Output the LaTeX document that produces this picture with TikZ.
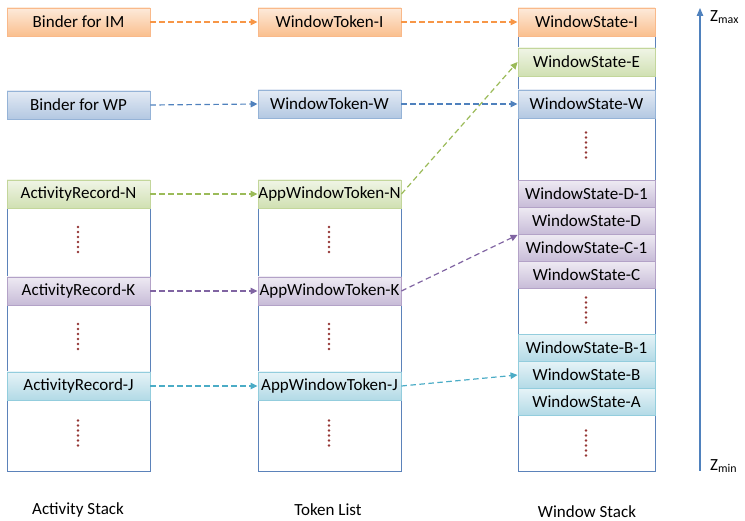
\documentclass[tikz,border=0pt]{standalone}
\usepackage{fontspec}
\setmainfont{Carlito}
\usetikzlibrary{arrows.meta}
\definecolor{orBd}{HTML}{F9B98A}
\definecolor{orT}{HTML}{FDEADA}
\definecolor{orB}{HTML}{FABF8E}
\definecolor{orA}{HTML}{F79646}
\definecolor{blBd}{HTML}{95B3D7}
\definecolor{blT}{HTML}{E3EAF4}
\definecolor{blB}{HTML}{B3C8E2}
\definecolor{blA}{HTML}{4F81BD}
\definecolor{grBd}{HTML}{C3D69B}
\definecolor{grT}{HTML}{F0F5E6}
\definecolor{grB}{HTML}{D0E0B2}
\definecolor{grA}{HTML}{9BBB59}
\definecolor{puBd}{HTML}{B3A2C7}
\definecolor{puT}{HTML}{EEEAF3}
\definecolor{puB}{HTML}{C7BBD7}
\definecolor{puA}{HTML}{8064A2}
\definecolor{teBd}{HTML}{93CDDD}
\definecolor{teT}{HTML}{E6F3F7}
\definecolor{teB}{HTML}{B2DAE6}
\definecolor{teA}{HTML}{4BACC6}
\definecolor{stackBd}{HTML}{5B82BA}
\definecolor{dotC}{HTML}{953735}
\newcommand\mydots[2]{\foreach \k in {0,...,5}{\fill[dotC] (#1,#2-12.5+5*\k) circle (1.4);}}
\begin{document}
\begin{tikzpicture}[x=1pt,y=-1pt,
  font=\fontsize{17}{19}\selectfont,
  cell/.style={draw, minimum height=28pt, inner sep=0pt, line width=0.9pt},
  wa/.style={cell, minimum width=143pt},
  wb/.style={cell, minimum width=137pt},
  orc/.style={draw=orBd, top color=orT, bottom color=orB},
  blc/.style={draw=blBd, top color=blT, bottom color=blB},
  grc/.style={draw=grBd, top color=grT, bottom color=grB},
  puc/.style={draw=puBd, top color=puT, bottom color=puB},
  tec/.style={draw=teBd, top color=teT, bottom color=teB},
  arr/.style={dash pattern=on 5.5pt off 3.5pt, line width=1.2pt, -{Triangle[length=7pt,width=6.5pt]}},
  stack/.style={draw=stackBd, line width=0.9pt, fill=white}
]
\useasboundingbox (0,0) rectangle (745,521);
% containers
\draw[stack] (7,180) rectangle (150,471);
\draw[stack] (258,180) rectangle (401,471);
\draw[stack] (518,8) rectangle (655,471);
% column 1
\node[wa,orc] (bim) at (78.5,22) {Binder for IM};
\node[wa,blc] (bwp) at (78.5,105) {Binder for WP};
\node[wa,grc] (arn) at (78.5,194) {ActivityRecord-N};
\node[wa,puc] (ark) at (78.5,291) {ActivityRecord-K};
\node[wa,tec] (arj) at (78.5,386) {ActivityRecord-J};
% column 2
\node[wa,orc] (wti) at (329.5,22) {WindowToken-I};
\node[wa,blc] (wtw) at (329.5,104) {WindowToken-W};
\node[wa,grc] (awn) at (329.5,194) {AppWindowToken-N};
\node[wa,puc] (awk) at (329.5,291) {AppWindowToken-K};
\node[wa,tec] (awj) at (329.5,386) {AppWindowToken-J};
% column 3
\node[wb,orc] (wsi) at (586.5,22) {WindowState-I};
\node[wb,grc] (wse) at (586.5,62) {WindowState-E};
\node[wb,blc] (wsw) at (586.5,104) {WindowState-W};
\node[wb,puc,minimum height=27pt] (wsd1) at (586.5,194) {WindowState-D-1};
\node[wb,puc,minimum height=27pt] (wsd) at (586.5,221) {WindowState-D};
\node[wb,puc,minimum height=27pt] (wsc1) at (586.5,248) {WindowState-C-1};
\node[wb,puc,minimum height=27pt] (wsc) at (586.5,275) {WindowState-C};
\node[wb,tec,minimum height=27pt] (wsb1) at (586.5,348) {WindowState-B-1};
\node[wb,tec,minimum height=27pt] (wsb) at (586.5,375) {WindowState-B};
\node[wb,tec,minimum height=27pt] (wsa) at (586.5,402) {WindowState-A};
% dots
\mydots{78}{239.5}\mydots{78}{336.5}\mydots{78}{433}
\mydots{329}{239.5}\mydots{329}{336.5}\mydots{329}{433}
\mydots{586}{145}\mydots{586}{310}\mydots{586}{443}
% arrows
\draw[arr,orA] (bim.east) -- (wti.west);
\draw[arr,orA] (wti.east) -- (wsi.west);
\draw[arr,blA] (bwp.east) -- (wtw.west);
\draw[arr,blA] (wtw.east) -- (wsw.west);
\draw[arr,grA] (arn.east) -- (awn.west);
\draw[arr,grA] (awn.east) -- (wse.west);
\draw[arr,puA] (ark.east) -- (awk.west);
\draw[arr,puA] (awk.east) -- (wsd.south west);
\draw[arr,teA] (arj.east) -- (awj.west);
\draw[arr,teA] (awj.east) -- (wsb.west);
% z axis
\coordinate (zlo) at (700,471);
\coordinate (zhi) at (700,8);
\draw[blA, line width=1.2pt, -{Triangle[length=8pt,width=6.5pt]}] (zlo) -- (zhi);
\node[anchor=west, inner sep=0pt] (zmax) at (710,17) {Z\textsubscript{max}};
\node[anchor=west, inner sep=0pt] (zmin) at (710,466) {Z\textsubscript{min}};
% captions
\node (cap1) at (78,510) {Activity Stack};
\node (cap2) at (328,510) {Token List};
\node (cap3) at (587,512) {Window Stack};
\end{tikzpicture}
\end{document}
